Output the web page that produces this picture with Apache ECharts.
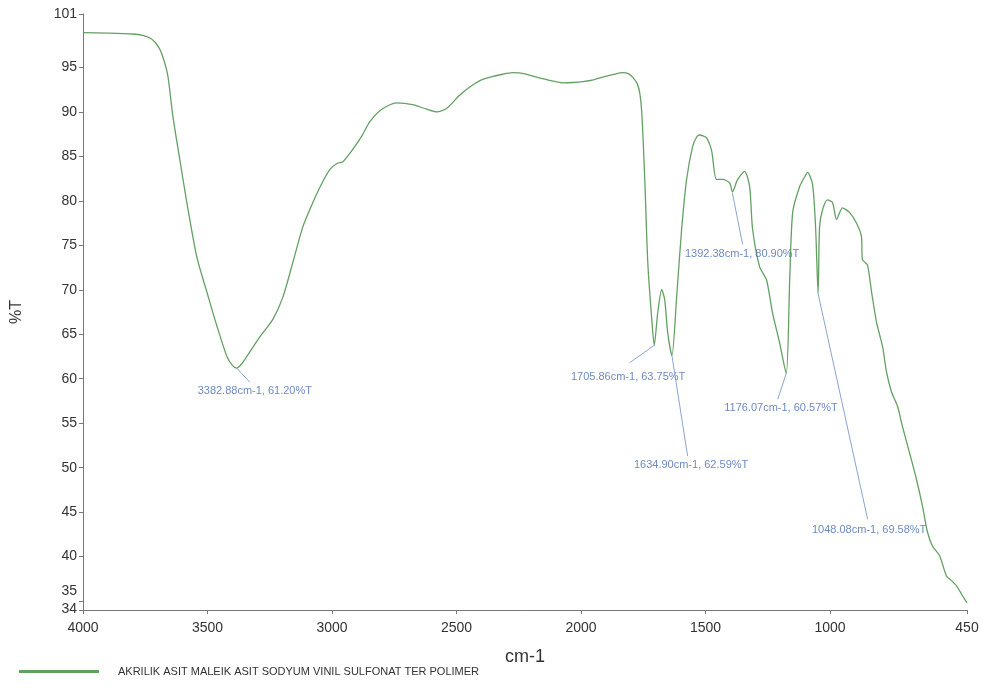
<!DOCTYPE html>
<html>
<head>
<meta charset="utf-8">
<script src="https://cdn.jsdelivr.net/npm/echarts@6/dist/echarts.min.js"></script>
<style>html,body{margin:0;padding:0;background:#fff}#c{width:983px;height:689px}</style>
</head>
<body>
<div id="c"></div>
<script>
var wavenumbers = [4000,3900,3800,3760,3731,3710,3691,3675,3659,3639,3611,3583,3543,3502,3462,3422,3400,3383,3365,3342,3290,3237,3197,3157,3117,3077,3040,3009,2980,2956,2916,2880,2848,2800,2740,2676,2620,2579,2539,2490,2447,2400,2366,2320,2274,2230,2178,2120,2073,2030,1993,1950,1913,1870,1833,1810,1793,1775,1764,1756,1744,1732,1716,1706,1692,1676,1664,1652,1635,1616,1596,1576,1552,1535,1524,1510,1496,1476,1456,1431,1403,1392,1371,1343,1323,1311,1283,1255,1231,1203,1176,1162,1150,1122,1100,1090,1070,1058,1048,1042,1030,1010,990,974,950,922,894,874,870,850,833,813,789,773,753,729,709,681,653,629,609,589,560,532,512,492,468,450];
var transmittance = [98.9,98.85,98.75,98.6,98.3,97.8,97.0,95.8,94.0,89.5,84.6,79.8,73.7,69.7,65.9,62.5,61.5,61.2,61.6,62.5,64.7,66.7,69.2,73.1,77.1,79.8,82.0,83.5,84.2,84.4,85.8,87.3,88.9,90.3,91.0,90.8,90.3,90.0,90.4,91.8,92.8,93.6,93.9,94.2,94.4,94.3,93.9,93.5,93.25,93.3,93.4,93.6,93.9,94.2,94.4,94.3,93.9,93.2,92.1,89.9,82.4,73.1,66.7,63.75,67.4,70.0,68.9,65.2,62.59,69.2,76.8,82.4,86.1,87.2,87.4,87.3,87.1,85.7,82.4,82.4,82.0,81.0,82.4,83.3,81.6,76.8,72.6,71.1,67.4,64.1,60.57,71.1,78.7,81.6,82.8,83.2,81.8,77.0,69.58,77.1,79.0,80.1,79.8,77.9,79.2,78.7,77.5,76.0,73.4,72.8,69.7,66.3,63.6,60.7,58.5,56.9,54.6,51.7,48.7,45.7,42.8,41.2,40.1,37.8,37.3,36.7,35.6,34.8];

var xTicks = [4000,3500,3000,2500,2000,1500,1000,450];
var yTicks = [34,35,40,45,50,55,60,65,70,75,80,85,90,95,101];

// peak annotations
var peakX = [3382.88,1705.86,1634.90,1392.38,1176.07,1048.08];
var peakY = [61.20,63.75,62.59,80.90,60.57,69.58];
var leaderEndX = [3330,1805,1572,1351,1210,849];
var leaderEndY = [59.6,61.8,51.3,75.1,57.7,44.2];
var labelX = [3310,1811,1558,1353,1197,843];
var labelY = [58.6,60.15,50.3,74.0,56.7,43.0];
var labelText = ['3382.88cm-1, 61.20%T','1705.86cm-1, 63.75%T','1634.90cm-1, 62.59%T','1392.38cm-1, 80.90%T','1176.07cm-1, 60.57%T','1048.08cm-1, 69.58%T'];

var seriesName = 'AKRILIK ASIT MALEIK ASIT SODYUM VINIL SULFONAT TER POLIMER';

var lineData = wavenumbers.map(function(w,i){return [w, transmittance[i]];});
var leaderData = peakX.map(function(x,i){
  return [{coord:[x, peakY[i]]},{coord:[leaderEndX[i], leaderEndY[i]]}];
});
var labelData = labelX.map(function(x,i){return {value:[x, labelY[i]], name: labelText[i]};});

var chart = echarts.init(document.getElementById('c'));
var FF = '"Liberation Sans", Arial, sans-serif';
chart.setOption({
  animation:false,
  backgroundColor:'#fff',
  grid:{left:83, top:14, right:16, bottom:79, containLabel:false},
  xAxis:{
    type:'value', min:450, max:4000, inverse:true,
    name:'cm-1', nameLocation:'middle', nameGap:38,
    nameTextStyle:{fontFamily:FF, fontSize:18, color:'#333'},
    axisLine:{show:true, onZero:false, lineStyle:{color:'#777', width:1}},
    axisTick:{show:true, length:4, customValues:xTicks, lineStyle:{color:'#777'}},
    axisLabel:{customValues:xTicks, margin:11, fontFamily:FF, fontSize:14, color:'#333',
      formatter:function(v){return String(v);}},
    splitLine:{show:false}
  },
  yAxis:{
    type:'value', min:34, max:101,
    name:'%T', nameLocation:'middle', nameGap:58, nameRotate:90,
    nameTextStyle:{fontFamily:FF, fontSize:16, color:'#333'},
    axisLine:{show:true, onZero:false, lineStyle:{color:'#777', width:1}},
    axisTick:{show:true, length:4, customValues:yTicks, lineStyle:{color:'#777'}},
    axisLabel:{customValues:yTicks, margin:6, fontFamily:FF, fontSize:14, color:'#333',
      formatter:function(v){ if(v===35) return '{up|35}'; if(v===34) return '{dn|34}'; return String(v);},
      rich:{up:{fontSize:14, color:'#333', fontFamily:FF, padding:[0,0,20,0]},
            dn:{fontSize:14, color:'#333', fontFamily:FF, padding:[0,0,2,0]}}
    },
    splitLine:{show:false}
  },
  legend:{
    show:true, left:14, top:661, orient:'horizontal',
    icon:'rect', itemWidth:80, itemHeight:3,
    textStyle:{fontFamily:FF, fontSize:11, color:'#333', padding:[0,0,0,14]},
    data:[seriesName]
  },
  series:[
    {
      name:seriesName, type:'line', data:lineData, showSymbol:false, smooth:0.25,
      lineStyle:{color:'#64a064', width:1.3}, itemStyle:{color:'#64a064'},
      markLine:{
        silent:true, symbol:['none','none'],
        lineStyle:{color:'#7f98c8', width:0.9, type:'solid'},
        label:{show:false},
        data:leaderData
      },
      z:3
    },
    {
      name:'labels', type:'scatter', data:labelData, symbolSize:0, silent:true,
      label:{show:true, position:'inside', formatter:function(p){return p.name;},
        fontFamily:FF, fontSize:11, color:'#4a6cb0'},
      z:4
    }
  ]
});
</script>
</body>
</html>
